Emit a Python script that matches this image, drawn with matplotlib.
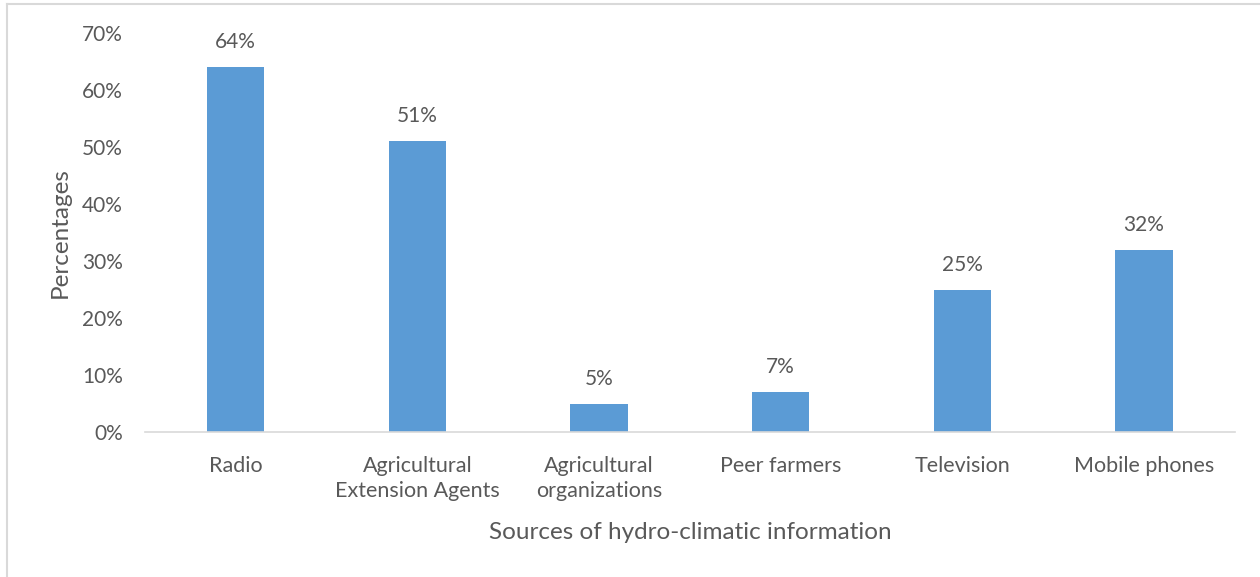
import matplotlib
matplotlib.use("Agg")
import matplotlib.pyplot as plt
from matplotlib.lines import Line2D
from matplotlib.ticker import FuncFormatter

# Sources and share of respondents using each
categories = ["Radio", "Agricultural\nExtension Agents", "Agricultural\norganizations",
              "Peer farmers", "Television", "Mobile phones"]
percentages = [64, 51, 5, 7, 25, 32]
yticks = [0, 10, 20, 30, 40, 50, 60, 70]

textColour = "#595959"
barColour = "#5B9BD5"
frameColour = "#D9D9D9"

plt.rcParams["font.family"] = ["Lato", "DejaVu Sans"]

figure = plt.figure(figsize=(12.6, 5.77), dpi=100)
axes = figure.add_axes([0.115, 0.2513, 0.865, 0.6915])

positions = list(range(len(categories)))
bars = axes.bar(positions, percentages, width=0.315, color=barColour, zorder=2)

for bar, value in zip(bars, percentages):
    axes.text(bar.get_x() + bar.get_width() / 2, value + 2.6, "{}%".format(value),
              ha="center", va="bottom", fontsize=15, color=textColour)

axes.set_xlim(-0.5, len(categories) - 0.5)
axes.set_ylim(0, 70)
axes.set_yticks(yticks)
axes.yaxis.set_major_formatter(FuncFormatter(lambda v, pos: "{:.0f}%".format(v)))
axes.set_xticks(positions)
axes.set_xticklabels(categories, fontsize=15.5, color=textColour, linespacing=1.35)
axes.tick_params(axis="y", labelsize=15, labelcolor=textColour, length=0, pad=16)
axes.tick_params(axis="x", length=0, pad=17)

for side in ["top", "right", "left"]:
    axes.spines[side].set_visible(False)
axes.spines["bottom"].set_color(frameColour)
axes.spines["bottom"].set_linewidth(1.2)

axes.set_xlabel("Sources of hydro-climatic information", fontsize=17.5,
                color=textColour, labelpad=15)
axes.set_ylabel("Percentages", fontsize=17.5, color=textColour, labelpad=8)

# light frame: only the top and left edges fall inside the image
figure.lines.append(Line2D([0.0056, 0.0056], [0.0, 0.993], transform=figure.transFigure,
                           color=frameColour, linewidth=1.5))
figure.lines.append(Line2D([0.0056, 1.0], [0.993, 0.993], transform=figure.transFigure,
                           color=frameColour, linewidth=1.5))

figure.savefig("out.png", dpi=100)
